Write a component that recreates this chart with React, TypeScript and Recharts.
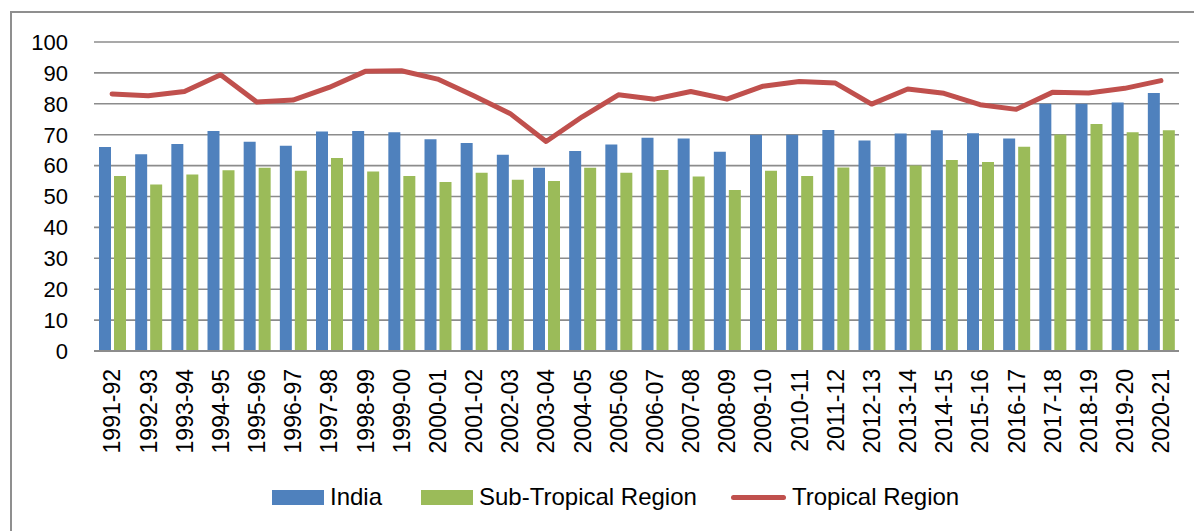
import React from 'react';
import { ComposedChart, Bar, Line, XAxis, YAxis, CartesianGrid, Legend } from 'recharts';

const categories = ['1991-92','1992-93','1993-94','1994-95','1995-96','1996-97','1997-98','1998-99','1999-00','2000-01','2001-02','2002-03','2003-04','2004-05','2005-06','2006-07','2007-08','2008-09','2009-10','2010-11','2011-12','2012-13','2013-14','2014-15','2015-16','2016-17','2017-18','2018-19','2019-20','2020-21'];
const india = [66, 63.7, 67, 71.2, 67.7, 66.4, 71, 71.2, 70.8, 68.5, 67.3, 63.5, 59.3, 64.7, 66.8, 69, 68.8, 64.5, 70, 70, 71.5, 68.1, 70.4, 71.4, 70.5, 68.8, 80, 80, 80.4, 83.5];
const subTropical = [56.6, 53.9, 57.1, 58.5, 59.3, 58.3, 62.5, 58.1, 56.6, 54.7, 57.7, 55.4, 55.0, 59.3, 57.7, 58.6, 56.5, 52.1, 58.3, 56.6, 59.4, 59.6, 60.0, 61.8, 61.2, 66.1, 70.1, 73.5, 70.8, 71.4];
const tropical = [83.2, 82.6, 84.0, 89.4, 80.6, 81.2, 85.3, 90.5, 90.7, 88.0, 82.6, 76.9, 67.8, 75.8, 82.9, 81.5, 84.0, 81.5, 85.7, 87.2, 86.7, 79.9, 84.8, 83.4, 79.7, 78.2, 83.7, 83.5, 85.0, 87.5];
const yTicks = [0, 10, 20, 30, 40, 50, 60, 70, 80, 90, 100];
const seriesNames = { india: 'India', sub: 'Sub-Tropical Region', trop: 'Tropical Region' };

const data = categories.map((c, i) => ({ cat: c, india: india[i], sub: subTropical[i], trop: tropical[i] }));

const FONT = '"Liberation Sans", Arial, sans-serif';
const BLUE = '#4F81BD';
const GREEN = '#9BBB59';
const RED = '#C0504D';

const XTick = (props: any) => {
  const { x, y, payload } = props;
  const ay = y + 18;
  return (
    <text x={x} y={ay} dy="0.36em" textAnchor="end" fontSize={23} fill="#000" fontFamily={FONT}
      transform={`rotate(-90, ${x}, ${ay})`}>
      {payload.value}
    </text>
  );
};

const legendLeft: Record<string, number> = { india: 272, sub: 421, trop: 731 };

const LegendContent = (props: any) => {
  const { payload } = props;
  return (
    <div style={{ position: 'relative', width: 1194, height: 30, fontFamily: FONT, fontSize: 24, color: '#000' }}>
      {(payload || []).map((p: any) => {
        const key = p.dataKey as string;
        const isLine = key === 'trop';
        return (
          <div key={key} style={{ position: 'absolute', left: legendLeft[key], top: 0, height: 30, display: 'flex', alignItems: 'center', whiteSpace: 'nowrap' }}>
            {isLine ? (
              <div style={{ width: 55, height: 5, background: p.color, borderRadius: 3 }} />
            ) : (
              <div style={{ width: 52, height: 15, background: p.color }} />
            )}
            <span style={{ marginLeft: 6 }}>{p.value}</span>
          </div>
        );
      })}
    </div>
  );
};

export default function App() {
  return (
    <div style={{ position: 'absolute', left: 0, top: 0, width: 1194, height: 531, overflow: 'hidden', background: '#fff' }}>
      <div style={{ position: 'absolute', left: 10, top: 11, width: 1400, height: 800, border: '2px solid #8f8f8f' }} />
      <div style={{ position: 'absolute', left: 0, top: 0 }}>
        <ComposedChart width={1194} height={531} data={data}
          margin={{ top: 42, right: 15, left: 0, bottom: 40 }} barSize={12} barGap={3}>
          <CartesianGrid vertical={false} stroke="#8c8c8c" strokeWidth={1.6} />
          <XAxis dataKey="cat" interval={0} height={140} tickLine={false} tickSize={0} tickMargin={0}
            axisLine={{ stroke: '#8c8c8c', strokeWidth: 2 }} tick={<XTick />} />
          <YAxis domain={[0, 100]} ticks={yTicks} interval={0} width={94} axisLine={false} tickLine={false}
            tickSize={0} tickMargin={26} tick={{ fontSize: 22, fill: '#000', fontFamily: FONT }} />
          <Bar dataKey="india" name={seriesNames.india} fill={BLUE} isAnimationActive={false} />
          <Bar dataKey="sub" name={seriesNames.sub} fill={GREEN} isAnimationActive={false} />
          <Line dataKey="trop" name={seriesNames.trop} stroke={RED} strokeWidth={5} dot={false}
            activeDot={false} type="linear" strokeLinecap="round" strokeLinejoin="round" isAnimationActive={false} />
          <Legend layout="horizontal" verticalAlign="middle" align="center" content={<LegendContent />}
            wrapperStyle={{ position: 'absolute', left: 0, top: 482, width: 1194, height: 30 }} />
        </ComposedChart>
      </div>
    </div>
  );
}
